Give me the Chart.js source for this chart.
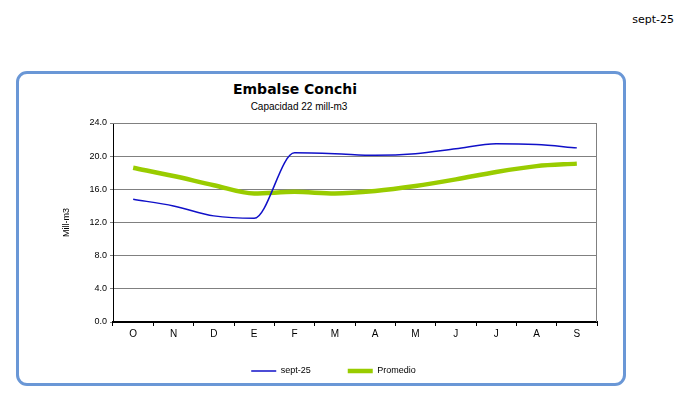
<!DOCTYPE html>
<html>
<head>
<meta charset="utf-8">
<script src="https://cdn.jsdelivr.net/npm/chart.js@4"></script>
<style>
  body { margin: 0; background: #fff; }
  #wrap { position: relative; width: 685px; height: 397px; overflow: hidden; }
  #box { position: absolute; left: 16px; top: 71px; width: 604px; height: 309px;
         border: 3px solid #6a97d6; border-radius: 11px; }
  #stamp { position: absolute; right: 11px; top: 13px; font: 11px Verdana, "DejaVu Sans", sans-serif; color: #000; }
  #title { position: absolute; left: 0; width: 590px; top: 81px; text-align: center;
           font: bold 14px Verdana, "DejaVu Sans", sans-serif; color: #000; }
  #subtitle { position: absolute; left: 0; width: 598px; top: 101px; text-align: center;
              font: 10px Arial, "Liberation Sans", sans-serif; color: #000; }
  canvas { position: absolute; left: 0; top: 0; }
</style>
</head>
<body>
<div id="wrap">
  <div id="box"></div>
  <div id="stamp">sept-25</div>
  <div id="title">Embalse Conchi</div>
  <div id="subtitle">Capacidad 22 mill-m3</div>
  <canvas id="myChart" width="685" height="397"></canvas>
</div>
<script>
let months = ['O', 'N', 'D', 'E', 'F', 'M', 'A', 'M', 'J', 'J', 'A', 'S'];
let actual = [14.8, 14.0, 12.8, 12.5, 20.4, 20.3, 20.1, 20.3, 20.9, 21.5, 21.4, 21.0];
let promedio = [18.6, 17.6, 16.5, 15.5, 15.7, 15.5, 15.8, 16.4, 17.2, 18.1, 18.8, 19.1];
let seriesNames = ['sept-25', 'Promedio'];
let yTicks = [0, 4, 8, 12, 16, 20, 24];

let frame = {
    id: 'frame',
    beforeDatasetsDraw(chart) {
        let a = chart.chartArea, ctx = chart.ctx;
        ctx.save();
        ctx.strokeStyle = '#808080';
        ctx.lineWidth = 1;
        ctx.beginPath();
        ctx.moveTo(a.left, a.top + 0.5);
        ctx.lineTo(a.right - 0.5, a.top + 0.5);
        ctx.lineTo(a.right - 0.5, a.bottom);
        ctx.stroke();
        ctx.restore();
    }
};

// legend sits a bit higher than the layout would put it
let nudgeLegend = {
    id: 'nudgeLegend',
    afterLayout(chart) {
        chart.legend.top -= 10.5;
        chart.legend.bottom -= 10.5;
    }
};

let ctx = document.getElementById('myChart').getContext('2d');
let chart = new Chart(ctx, {
    type: 'line',
    data: {
        labels: months,
        datasets: [{
            label: seriesNames[0],
            data: actual,
            borderColor: '#1010c8',
            backgroundColor: '#1010c8',
            borderWidth: 1.5,
            cubicInterpolationMode: 'monotone',
            pointRadius: 0
        }, {
            label: seriesNames[1],
            data: promedio,
            borderColor: '#99cc00',
            backgroundColor: '#99cc00',
            borderWidth: 4.5,
            cubicInterpolationMode: 'monotone',
            pointRadius: 0
        }]
    },
    options: {
        responsive: false,
        animation: false,
        layout: { padding: { left: 70, right: 88, top: 123, bottom: 1 } },
        plugins: {
            tooltip: { enabled: false },
            legend: {
                position: 'bottom',
                labels: {
                    usePointStyle: true,
                    pointStyle: 'line',
                    pointStyleWidth: 25,
                    padding: 37,
                    color: '#000',
                    font: { family: 'Arial, "Liberation Sans"', size: 9 }
                }
            }
        },
        scales: {
            x: {
                offset: true,
                afterFit(s) { s.height = 18; },
                grid: { offset: true, drawOnChartArea: false, drawTicks: true, tickLength: 4, color: '#000' },
                border: { color: '#000', width: 2 },
                ticks: { color: '#000', padding: 2, font: { family: 'Arial, "Liberation Sans"', size: 10 } }
            },
            y: {
                min: 0,
                max: 24,
                afterFit(s) { s.width = 43; },
                afterBuildTicks(s) { s.ticks = yTicks.map(v => ({ value: v })); },
                title: {
                    display: true,
                    text: 'Mill-m3',
                    color: '#000',
                    padding: { top: -9, bottom: 0 },
                    font: { family: 'Arial, "Liberation Sans"', size: 9 }
                },
                grid: { color: '#808080', drawTicks: true, tickLength: 3, lineWidth: 1 },
                border: { color: '#000', width: 1 },
                ticks: {
                    color: '#000',
                    padding: 3,
                    callback: v => v.toFixed(1),
                    font: { family: 'Arial, "Liberation Sans"', size: 9 }
                }
            }
        }
    },
    plugins: [frame, nudgeLegend]
});
</script>
</body>
</html>
